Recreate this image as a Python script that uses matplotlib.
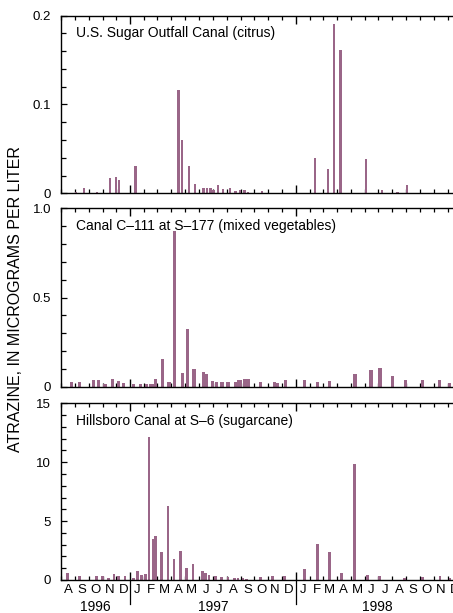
import matplotlib
matplotlib.use("Agg")
import matplotlib.pyplot as plt
import matplotlib.dates as mdates
import matplotlib.transforms as mtransforms
import pandas as pd
import numpy as np

plt.rcParams['font.family'] = ['Liberation Sans', 'DejaVu Sans']

# ---------------- data ----------------
titles = ["U.S. Sugar Outfall Canal (citrus)",
          "Canal C\u2013111 at S\u2013177 (mixed vegetables)",
          "Hillsboro Canal at S\u20136 (sugarcane)"]

citrus_dates = ["1996-09-03", "1996-09-21", "1996-10-19", "1996-11-17", "1996-11-30",
                "1996-12-07", "1997-01-12", "1997-04-17", "1997-04-25", "1997-05-10",
                "1997-05-23", "1997-06-11", "1997-06-19", "1997-06-26", "1997-07-03",
                "1997-07-13", "1997-07-24", "1997-08-08", "1997-08-21", "1997-08-31",
                "1997-09-09", "1997-09-17", "1997-10-18", "1998-02-12", "1998-03-12",
                "1998-03-26", "1998-04-09", "1998-06-04", "1998-07-09", "1998-08-13",
                "1998-09-02"]
citrus_vals = [0.002, 0.006, 0.002, 0.017, 0.018, 0.015, 0.031, 0.116, 0.060, 0.031,
               0.010, 0.006, 0.006, 0.006, 0.004, 0.009, 0.005, 0.006, 0.003, 0.004,
               0.004, 0.002, 0.003, 0.040, 0.027, 0.190, 0.161, 0.039, 0.004, 0.0015,
               0.009]

veg_dates = ["1996-08-24", "1996-09-11", "1996-10-11", "1996-10-23", "1996-11-06",
             "1996-11-22", "1996-12-05", "1996-12-17", "1997-01-08", "1997-01-23",
             "1997-02-06", "1997-02-14", "1997-02-20", "1997-02-26", "1997-03-12",
             "1997-03-27", "1997-04-08", "1997-04-25", "1997-05-06", "1997-05-21",
             "1997-06-11", "1997-06-18", "1997-06-30", "1997-07-09", "1997-07-22",
             "1997-08-04", "1997-08-20", "1997-08-28", "1997-09-01", "1997-09-10",
             "1997-09-17", "1997-10-14", "1997-11-15", "1997-11-20", "1997-12-09",
             "1998-01-20", "1998-02-18", "1998-03-16", "1998-05-11", "1998-06-15",
             "1998-07-05", "1998-08-02", "1998-08-30", "1998-10-06", "1998-11-14",
             "1998-12-06"]
veg_vals = [0.028, 0.024, 0.035, 0.035, 0.017, 0.045, 0.030, 0.020, 0.015, 0.015,
            0.017, 0.015, 0.015, 0.045, 0.157, 0.026, 0.873, 0.075, 0.323, 0.099,
            0.082, 0.071, 0.030, 0.028, 0.028, 0.027, 0.026, 0.037, 0.037, 0.044,
            0.042, 0.026, 0.024, 0.022, 0.035, 0.040, 0.028, 0.032, 0.071, 0.093,
            0.103, 0.060, 0.035, 0.040, 0.035, 0.022]

cane_dates = ["1996-08-15", "1996-09-10", "1996-10-18", "1996-10-31", "1996-11-13",
              "1996-11-26", "1996-12-05", "1996-12-20", "1997-01-07", "1997-01-16",
              "1997-01-25", "1997-02-03", "1997-02-11", "1997-02-21", "1997-02-25",
              "1997-03-10", "1997-03-25", "1997-04-07", "1997-04-21", "1997-05-05",
              "1997-05-19", "1997-06-09", "1997-06-16", "1997-06-23", "1997-07-07",
              "1997-07-20", "1997-08-04", "1997-08-19", "1997-08-26", "1997-09-06",
              "1997-09-14", "1997-10-15", "1997-11-10", "1997-12-07", "1998-01-20",
              "1998-02-17", "1998-03-15", "1998-04-11", "1998-05-10", "1998-06-07",
              "1998-07-04", "1998-08-28", "1998-10-06", "1998-11-14", "1998-12-06"]
cane_vals = [0.57, 0.36, 0.36, 0.30, 0.15, 0.51, 0.30, 0.38, 0.18, 0.76,
             0.42, 0.51, 12.15, 3.45, 3.77, 2.40, 6.30, 1.78, 2.45, 1.00,
             1.36, 0.75, 0.56, 0.42, 0.32, 0.28, 0.24, 0.15, 0.20, 0.18,
             0.12, 0.22, 0.30, 0.36, 0.95, 3.03, 2.40, 0.60, 9.88, 0.45,
             0.33, 0.15, 0.27, 0.36, 0.15]

ymax = [0.2, 1.0, 15]
ymajor = [0.1, 0.5, 5]
yminor = [0.02, 0.1, 1]
ytick_labels = [["0", "0.1", "0.2"], ["0", "0.5", "1.0"], ["0", "5", "10", "15"]]
month_letters = list("ASONDJFMAMJJASONDJFMAMJJASOND")
years = ["1996", "1997", "1998"]

x_start = "1996-08-01"
x_end = "1998-12-25"

# ---------------- figure ----------------
W, H = 453, 613
fig = plt.figure(figsize=(W / 100, H / 100), dpi=100)

bar_color = "#9a6688"
left_px, right_px = 61, 458.5
panels_px = [(15.5, 193.3), (208.3, 386.7), (403.3, 580.0)]
widths = [5.5, 7.0, 6.0]

series = [(citrus_dates, citrus_vals), (veg_dates, veg_vals), (cane_dates, cane_vals)]
x0 = mdates.date2num(pd.Timestamp(x_start))
x1 = mdates.date2num(pd.Timestamp(x_end))

axes = []
for i, ((top, bot), (d, v)) in enumerate(zip(panels_px, series)):
    ax = fig.add_axes([left_px / W, 1 - bot / H, (right_px - left_px) / W, (bot - top) / H])
    axes.append(ax)
    xs = mdates.date2num(pd.to_datetime(d))
    ax.bar(xs, v, width=widths[i], color=bar_color, linewidth=0, zorder=2)
    ax.set_xlim(x0, x1)
    ax.set_ylim(0, ymax[i])
    ticks = [float(t) for t in ytick_labels[i]]
    ax.set_yticks(ticks)
    ax.set_yticklabels(ytick_labels[i])
    ax.yaxis.set_minor_locator(plt.MultipleLocator(yminor[i]))
    ax.xaxis.set_major_locator(mdates.YearLocator())
    ax.xaxis.set_minor_locator(mdates.MonthLocator())
    ax.set_xticklabels([])
    ax.tick_params(axis='x', which='major', direction='in', length=6, width=1.0,
                   top=True, bottom=True, labelbottom=False)
    ax.tick_params(axis='x', which='minor', direction='in', length=3.2, width=0.9,
                   top=True, bottom=True)
    ax.tick_params(axis='y', which='major', direction='in', length=4.5, width=0.9,
                   left=True, right=True, labelsize=9.5, pad=7)
    ax.tick_params(axis='y', which='minor', direction='in', length=3.5, width=0.9,
                   left=True, right=False)
    for s in ax.spines.values():
        s.set_linewidth(1.0)
    ax.text(15 / (right_px - left_px), 1 - 11 / (bot - top), titles[i],
            transform=ax.transAxes, ha='left', va='top', fontsize=10)

# month and year labels under bottom panel
axb = axes[-1]
trans = mtransforms.blended_transform_factory(axb.transData, axb.transAxes)
bot_h = panels_px[2][1] - panels_px[2][0]
mstarts = pd.date_range(x_start, "1999-01-01", freq="MS")
for k, letter in enumerate(month_letters):
    a = mdates.date2num(mstarts[k])
    b = mdates.date2num(mstarts[k + 1])
    axb.text((a + b) / 2, -4 / bot_h, letter, transform=trans, ha='center', va='top',
             fontsize=9.5, clip_on=False)

ystarts = [pd.Timestamp(x_start), pd.Timestamp("1997-01-01"), pd.Timestamp("1998-01-01"),
           pd.Timestamp(x_end)]
for k, yr in enumerate(years):
    a = mdates.date2num(ystarts[k])
    b = mdates.date2num(ystarts[k + 1])
    axb.text((a + b) / 2, -20 / bot_h, yr, transform=trans, ha='center', va='top',
             fontsize=10, clip_on=False)

for yb in ystarts[1:3]:
    xb = mdates.date2num(yb)
    axb.plot([xb, xb], [0, -24 / bot_h], transform=trans, color='black', lw=0.9,
             clip_on=False)

fig.text(16 / W, 1 - 299 / H, "ATRAZINE, IN MICROGRAMS PER LITER", rotation=90,
         ha='center', va='center', fontsize=11.5)

fig.savefig("out.png", dpi=100)
